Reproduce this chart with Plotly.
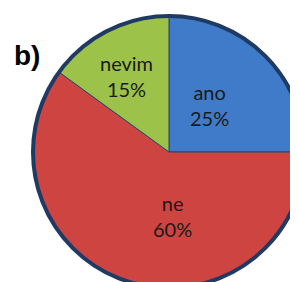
import plotly.graph_objects as go

labels = ["ano", "ne", "nevim"]
values = [25, 60, 15]
colors = ["#3F7BC8", "#CE4440", "#9CC24A"]
panel_label = "b)"

# page body adds an 8px margin; positions below are in figure (div) pixels
W, H = 300, 284
cx, cy, r = 161, 144, 136
dom = dict(x=[(cx - r) / W, (cx + r) / W], y=[1 - (cy + r) / H, 1 - (cy - r) / H])

# label block centres (figure pixels)
label_pos = {"ano": (201, 97), "ne": (164, 208), "nevim": (118, 68)}

fig = go.Figure()
fig.add_trace(go.Pie(
    labels=labels, values=values, sort=False, direction="clockwise", rotation=0,
    marker=dict(colors=colors, line=dict(color="#2A4470", width=1)),
    textinfo="none", showlegend=False, hoverinfo="skip", domain=dom,
))
# outer rim of the pie
fig.add_trace(go.Pie(
    labels=["rim"], values=[sum(values)], sort=False,
    marker=dict(colors=["rgba(0,0,0,0)"], line=dict(color="#1F3A63", width=4)),
    textinfo="none", showlegend=False, hoverinfo="skip", domain=dom,
))

total = sum(values)
for lab, val in zip(labels, values):
    px, py = label_pos[lab]
    fig.add_annotation(text="%s<br>%d%%" % (lab, round(100 * val / total)),
                       x=px / W, y=1 - py / H, xref="paper", yref="paper",
                       xanchor="center", yanchor="middle", showarrow=False,
                       font=dict(family="Lato", size=20, color="#1a1a1a"))

fig.add_annotation(text="<b>%s</b>" % panel_label, x=4 / W, y=1 - 47 / H, xref="paper", yref="paper",
                   xanchor="left", yanchor="middle", showarrow=False,
                   font=dict(family="Liberation Sans", size=28, color="black"))

fig.update_layout(width=W, height=H, margin=dict(l=0, r=0, t=0, b=0),
                  paper_bgcolor="white", plot_bgcolor="white")
fig.write_html("out.html")
